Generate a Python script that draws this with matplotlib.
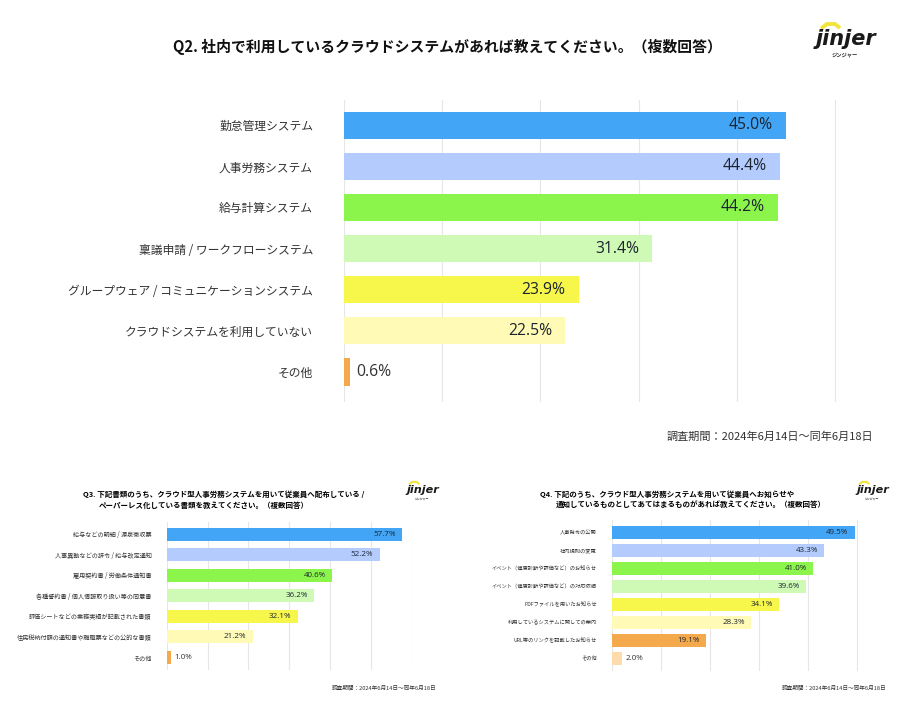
import matplotlib.pyplot as plt
from matplotlib.lines import Line2D

plt.rcParams['font.family'] = ['Noto Sans CJK JP', 'DejaVu Sans']

BLUE = '#42A5F5'
LBLUE = '#B3CCFD'
GREEN = '#8CF54B'
LGREEN = '#CFFAB5'
YELLOW = '#F7F74B'
LYELLOW = '#FFFAB6'
ORANGE = '#F4AA4C'
PEACH = '#FDDBAB'

q2_title = 'Q2. 社内で利用しているクラウドシステムがあれば教えてください。（複数回答）'
q2_labels = ['勤怠管理システム', '人事労務システム', '給与計算システム',
             '稟議申請 / ワークフローシステム',
             'グループウェア / コミュニケーションシステム',
             'クラウドシステムを利用していない', 'その他']
q2_values = [45.0, 44.4, 44.2, 31.4, 23.9, 22.5, 0.6]
q2_colors = [BLUE, LBLUE, GREEN, LGREEN, YELLOW, LYELLOW, ORANGE]

q3_title = ['Q3. 下記書類のうち、クラウド型人事労務システムを用いて従業員へ配布している /',
            'ペーパーレス化している書類を教えてください。（複数回答）']
q3_labels = ['給与などの明細 / 源泉徴収票', '人事異動などの辞令 / 給与改定通知',
             '雇用契約書 / 労働条件通知書', '各種誓約書 / 個人情報取り扱い等の同意書',
             '評価シートなどの業務実績が記載された書類',
             '住民税納付額の通知書や離職票などの公的な書類', 'その他']
q3_values = [57.7, 52.2, 40.6, 36.2, 32.1, 21.2, 1.0]
q3_colors = [BLUE, LBLUE, GREEN, LGREEN, YELLOW, LYELLOW, ORANGE]

q4_title = ['Q4. 下記のうち、クラウド型人事労務システムを用いて従業員へお知らせや',
            '通知しているものとしてあてはまるものがあれば教えてください。（複数回答）']
q4_labels = ['人事発令の公開', '社内規則の変更',
             'イベント（健康診断や評価など）のお知らせ',
             'イベント（健康診断や評価など）の対応依頼',
             'PDFファイルを用いたお知らせ', '利用しているシステムに関しての案内',
             'URL等のリンクを記載したお知らせ', 'その他']
q4_values = [49.5, 43.3, 41.0, 39.6, 34.1, 28.3, 19.1, 2.0]
q4_colors = [BLUE, LBLUE, GREEN, LGREEN, YELLOW, LYELLOW, ORANGE, PEACH]

period = '調査期間：2024年6月14日～同年6月18日'

W, H = 900, 705
fig = plt.figure(figsize=(9, 7.05), dpi=100)


def px(x, y):
    return x / W, 1 - y / H


def rect(x0, y0, x1, y1):
    return [x0 / W, 1 - y1 / H, (x1 - x0) / W, (y1 - y0) / H]


def panel(r, labels, values, colors, xmax, ylim, bh, lsize, lpad, vsize, ipad, opad):
    ax = fig.add_axes(r)
    ys = list(range(len(values)))
    ax.barh(ys, values, height=bh, color=colors, zorder=2)
    ax.set_xlim(0, xmax * 1.002)
    ax.set_ylim(*ylim)
    ax.set_xticks(range(0, xmax + 1, 10))
    ax.grid(axis='x', color='#e6e6e6', lw=0.8, zorder=0)
    ax.set_yticks(ys)
    ax.set_yticklabels(labels, fontsize=lsize, color='#333333')
    ax.tick_params(axis='y', length=0, pad=lpad)
    ax.tick_params(axis='x', length=0, labelbottom=False)
    for s in ax.spines.values():
        s.set_visible(False)
    for i, v in enumerate(values):
        if v < 5:
            ax.annotate(f'{v:.1f}%', (v, i), xytext=(opad, 0), textcoords='offset points',
                        ha='left', va='center', fontsize=vsize, color='#333333',
                        family=['Open Sans', 'Noto Sans CJK JP'])
        else:
            ax.annotate(f'{v:.1f}%', (v, i), xytext=(-ipad, 0), textcoords='offset points',
                        ha='right', va='center', fontsize=vsize, color='#1c2430',
                        family=['Open Sans', 'Noto Sans CJK JP'])
    return ax


def logo(cx, cy, s):
    fig.text(*px(cx, cy), 'jinjer', ha='center', va='center', fontsize=15 * s,
             weight='bold', style='italic', family='DejaVu Sans', color='#1a1a1a')
    rx = [cx + d * s for d in (-25, -19, -11, -6)]
    ry = [cy + d * s for d in (-10.5, -15, -15, -11)]
    fig.add_artist(Line2D([x / W for x in rx], [1 - y / H for y in ry],
                          color='#F2E43A', lw=2.8 * s, solid_joinstyle='miter',
                          solid_capstyle='butt'))
    fig.text(*px(cx - 1 * s, cy + 16 * s), 'ジンジャー', ha='center', va='center',
             fontsize=3.8 * s, weight='bold', color='#222222')


# main chart
fig.text(*px(447, 47), q2_title, ha='center', va='center', fontsize=10.7,
         weight='bold', color='#111111')
logo(846, 39, 1.0)
panel(rect(344, 100, 836, 402), q2_labels, q2_values, q2_colors, 50, (6.73, -0.61),
      0.66, 8.5, 22.3, 11.3, 9.4, 4.3)
fig.text(*px(873, 437), period, ha='right', va='center', fontsize=8, color='#333333')

# Q3
fig.text(*px(83, 494), q3_title[0], ha='left', va='center', fontsize=5.4, weight='bold')
fig.text(*px(99, 505), q3_title[1], ha='left', va='center', fontsize=5.4, weight='bold')
logo(422.5, 490, 0.54)
panel(rect(166.7, 521.7, 412, 670), q3_labels, q3_values, q3_colors, 60, (6.62, -0.61),
      0.65, 4.4, 10.8, 5.8, 4.8, 2.6)
fig.text(*px(436.7, 687), period, ha='right', va='center', fontsize=4.1, color='#333333')

# Q4
fig.text(*px(540, 494), q4_title[0], ha='left', va='center', fontsize=5.4, weight='bold')
fig.text(*px(556, 505), q4_title[1], ha='left', va='center', fontsize=5.4, weight='bold')
logo(872.5, 490, 0.54)
panel(rect(612.3, 520, 857.7, 671), q4_labels, q4_values, q4_colors, 50, (7.7, -0.68),
      0.72, 3.75, 11.2, 5.8, 4.5, 2.6)
fig.text(*px(886.7, 687), period, ha='right', va='center', fontsize=4.1, color='#333333')

fig.savefig('out.png', dpi=100, facecolor='white')
